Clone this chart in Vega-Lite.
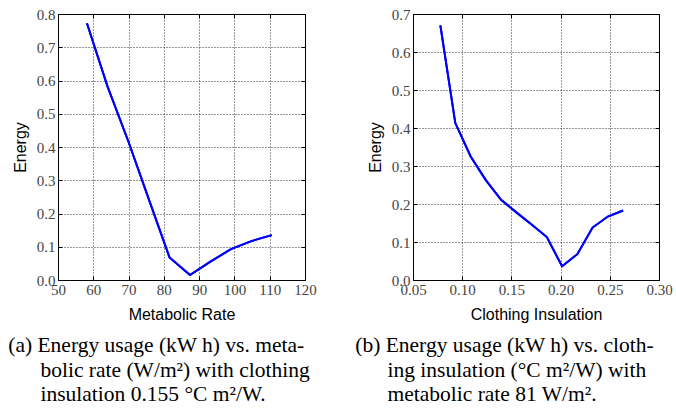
{
  "$schema": "https://vega.github.io/schema/vega-lite/v6.json",
  "background": "white",
  "padding": {"left": 7, "top": 6, "right": 0, "bottom": 0},
  "datasets": {
    "rate": [
      {"rate": 58.2, "energy": 0.772},
      {"rate": 64.0, "energy": 0.583},
      {"rate": 70.0, "energy": 0.415},
      {"rate": 75.8, "energy": 0.241},
      {"rate": 81.6, "energy": 0.068},
      {"rate": 87.4, "energy": 0.015},
      {"rate": 93.2, "energy": 0.055},
      {"rate": 99.0, "energy": 0.093},
      {"rate": 104.8, "energy": 0.117},
      {"rate": 110.6, "energy": 0.135}
    ],
    "insulation": [
      {"insulation": 0.0778, "energy": 0.670},
      {"insulation": 0.093, "energy": 0.413},
      {"insulation": 0.1086, "energy": 0.325},
      {"insulation": 0.124, "energy": 0.263},
      {"insulation": 0.1395, "energy": 0.211},
      {"insulation": 0.155, "energy": 0.178},
      {"insulation": 0.1705, "energy": 0.146},
      {"insulation": 0.186, "energy": 0.113},
      {"insulation": 0.2015, "energy": 0.036},
      {"insulation": 0.217, "energy": 0.068},
      {"insulation": 0.2325, "energy": 0.138},
      {"insulation": 0.248, "energy": 0.167},
      {"insulation": 0.2635, "energy": 0.183}
    ]
  },
  "hconcat": [
    {
      "width": 247,
      "height": 266,
      "title": {
        "text": ["(a) Energy usage (kW h) vs. meta-", "\u200b\u00a0\u00a0\u00a0\u00a0\u00a0\u00a0bolic rate (W/m²) with clothing", "\u200b\u00a0\u00a0\u00a0\u00a0\u00a0\u00a0insulation 0.155  °C m²/W."],
        "dx": -4
      },
      "data": {"name": "rate"},
      "resolve": {"axis": {"x": "independent", "y": "independent"}},
      "layer": [
        {
          "mark": {"type": "line", "color": "#0000ff", "strokeWidth": 2},
          "encoding": {
            "x": {"field": "rate", "type": "quantitative", "title": "Metabolic Rate",
                  "scale": {"domain": [50, 120], "nice": false},
                  "axis": {"values": [50, 60, 70, 80, 90, 100, 110, 120], "format": "d"}},
            "y": {"field": "energy", "type": "quantitative", "title": "Energy",
                  "scale": {"domain": [0, 0.8], "nice": false},
                  "axis": {"values": [0, 0.1, 0.2, 0.3, 0.4, 0.5, 0.6, 0.7, 0.8], "format": ".1f"}}
          }
        },
        {
          "mark": {"type": "line", "color": "#0000ff", "strokeWidth": 2},
          "encoding": {
            "x": {"field": "rate", "type": "quantitative", "title": null,
                  "axis": {"orient": "top", "values": [50, 60, 70, 80, 90, 100, 110, 120], "labels": false, "grid": false}},
            "y": {"field": "energy", "type": "quantitative", "title": null,
                  "axis": {"orient": "right", "values": [0, 0.1, 0.2, 0.3, 0.4, 0.5, 0.6, 0.7, 0.8], "labels": false, "grid": false}}
          }
        }
      ]
    },
    {
      "width": 246,
      "height": 266,
      "title": {
        "text": ["(b) Energy usage (kW h) vs. cloth-", "\u200b\u00a0\u00a0\u00a0\u00a0\u00a0\u00a0ing insulation (°C m²/W) with", "\u200b\u00a0\u00a0\u00a0\u00a0\u00a0\u00a0metabolic rate 81 W/m²."],
        "dx": -12
      },
      "data": {"name": "insulation"},
      "resolve": {"axis": {"x": "independent", "y": "independent"}},
      "layer": [
        {
          "mark": {"type": "line", "color": "#0000ff", "strokeWidth": 2},
          "encoding": {
            "x": {"field": "insulation", "type": "quantitative", "title": "Clothing Insulation",
                  "scale": {"domain": [0.05, 0.3], "nice": false},
                  "axis": {"values": [0.05, 0.1, 0.15, 0.2, 0.25, 0.3], "format": ".2f"}},
            "y": {"field": "energy", "type": "quantitative", "title": "Energy",
                  "scale": {"domain": [0, 0.7], "nice": false},
                  "axis": {"values": [0, 0.1, 0.2, 0.3, 0.4, 0.5, 0.6, 0.7], "format": ".1f"}}
          }
        },
        {
          "mark": {"type": "line", "color": "#0000ff", "strokeWidth": 2},
          "encoding": {
            "x": {"field": "insulation", "type": "quantitative", "title": null,
                  "axis": {"orient": "top", "values": [0.05, 0.1, 0.15, 0.2, 0.25, 0.3], "labels": false, "grid": false}},
            "y": {"field": "energy", "type": "quantitative", "title": null,
                  "axis": {"orient": "right", "values": [0, 0.1, 0.2, 0.3, 0.4, 0.5, 0.6, 0.7], "labels": false, "grid": false}}
          }
        }
      ]
    }
  ],
  "spacing": 37,
  "config": {
    "view": {"stroke": "black", "strokeWidth": 1},
    "axis": {
      "domain": false,
      "grid": true,
      "gridColor": "black",
      "gridDash": [1, 2],
      "gridOpacity": 0.8,
      "tickColor": "black",
      "tickSize": -4,
      "labelFont": "Liberation Serif",
      "labelFontSize": 15,
      "labelColor": "#444444",
      "labelFlush": false,
      "titleFont": "Liberation Sans",
      "titleFontSize": 16,
      "titleFontWeight": "normal",
      "titleColor": "black"
    },
    "axisX": {"labelPadding": 6, "titlePadding": 9},
    "axisY": {"labelPadding": 7, "titlePadding": 8},
    "title": {
      "orient": "bottom",
      "anchor": "start",
      "font": "Liberation Serif",
      "fontSize": 21.5,
      "fontWeight": "normal",
      "color": "black",
      "lineHeight": 24.5,
      "offset": 13
    }
  }
}
